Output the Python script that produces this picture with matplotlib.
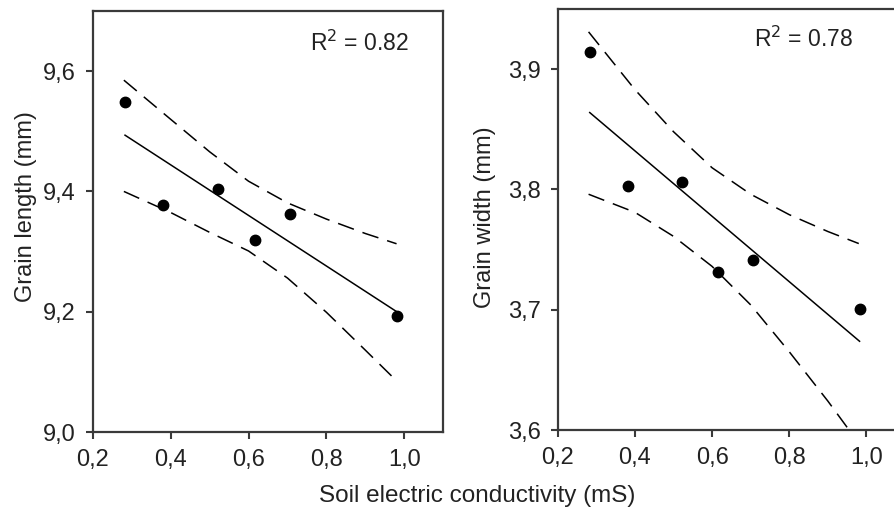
import numpy as np
import matplotlib
matplotlib.use("Agg")
import matplotlib.pyplot as plt

plt.rcParams['font.family'] = ['Liberation Sans', 'DejaVu Sans']

# soil electric conductivity (mS), same sites in both panels
conductivity = [0.283, 0.381, 0.521, 0.616, 0.707, 0.982]

grain_length = [9.549, 9.378, 9.404, 9.320, 9.363, 9.193]
grain_width = [3.914, 3.803, 3.806, 3.731, 3.741, 3.701]

# 95% confidence bands
band_x = [0.28, 0.40, 0.50, 0.60, 0.70, 0.80, 0.90, 0.98]
length_upper = [9.585, 9.520, 9.466, 9.417, 9.381, 9.354, 9.330, 9.313]
length_lower = [9.400, 9.365, 9.332, 9.301, 9.256, 9.199, 9.136, 9.085]
width_upper = [3.931, 3.883, 3.848, 3.818, 3.796, 3.779, 3.765, 3.755]
width_lower = [3.796, 3.781, 3.761, 3.736, 3.704, 3.665, 3.624, 3.589]

r2_length = "0.82"
r2_width = "0.78"

x_ticks = [0.2, 0.4, 0.6, 0.8, 1.0]
x_ticklabels = ["0,2", "0,4", "0,6", "0,8", "1,0"]
length_ticks = [9.0, 9.2, 9.4, 9.6]
length_ticklabels = ["9,0", "9,2", "9,4", "9,6"]
width_ticks = [3.6, 3.7, 3.8, 3.9]
width_ticklabels = ["3,6", "3,7", "3,8", "3,9"]

FS = 17
TXT = "#222222"
SPINE = "#3a3a3a"

fig = plt.figure(figsize=(8.95, 5.21), dpi=100)
ax1 = fig.add_axes([92.7 / 895, 1 - 432 / 521, 350.6 / 895, 421 / 521])
ax2 = fig.add_axes([557.7 / 895, 1 - 430 / 521, 347.4 / 895, 421 / 521])


def draw_panel(ax, y, upper, lower, r2, r2_pos, yticks, yticklabels, ylim,
               ylabel, ylabel_pos):
    x = np.array(conductivity)
    slope, icpt = np.polyfit(x, y, 1)
    xs = np.array([x.min(), x.max()])
    ax.plot(xs, slope * xs + icpt, color="black", lw=1.1)
    ax.plot(band_x, upper, color="black", lw=1.1, linestyle=(0, (11, 6)))
    ax.plot(band_x, lower, color="black", lw=1.1, linestyle=(0, (11, 6)))
    ax.plot(x, y, "o", color="black", markersize=7.5)

    ax.set_xlim(0.2, 1.1)
    ax.set_ylim(*ylim)
    ax.set_xticks(x_ticks)
    ax.set_xticklabels(x_ticklabels, fontsize=FS, color=TXT)
    ax.set_yticks(yticks)
    ax.set_yticklabels(yticklabels, fontsize=FS, color=TXT)
    ax.tick_params(direction="out", length=5, width=1.5, color=SPINE, pad=7)
    for s in ax.spines.values():
        s.set_color(SPINE)
        s.set_linewidth(1.6)
    ax.set_ylabel(ylabel, fontsize=FS, color=TXT)
    ax.yaxis.set_label_coords(*ylabel_pos)
    ax.text(r2_pos[0], r2_pos[1], "R$^2$ = " + r2, transform=ax.transAxes,
            fontsize=16.5, color=TXT)


draw_panel(ax1, grain_length, length_upper, length_lower, r2_length, (0.62, 0.905),
           length_ticks, length_ticklabels, (9.0, 9.7), "Grain length (mm)",
           (-0.158, 0.535))
draw_panel(ax2, grain_width, width_upper, width_lower, r2_width, (0.565, 0.91),
           width_ticks, width_ticklabels, (3.6, 3.95), "Grain width (mm)",
           (-0.178, 0.505))

fig.text(477 / 895, 1 - 496 / 521, "Soil electric conductivity (mS)",
         ha="center", va="center", fontsize=17.5, color=TXT)

fig.savefig("out.png", dpi=100)
